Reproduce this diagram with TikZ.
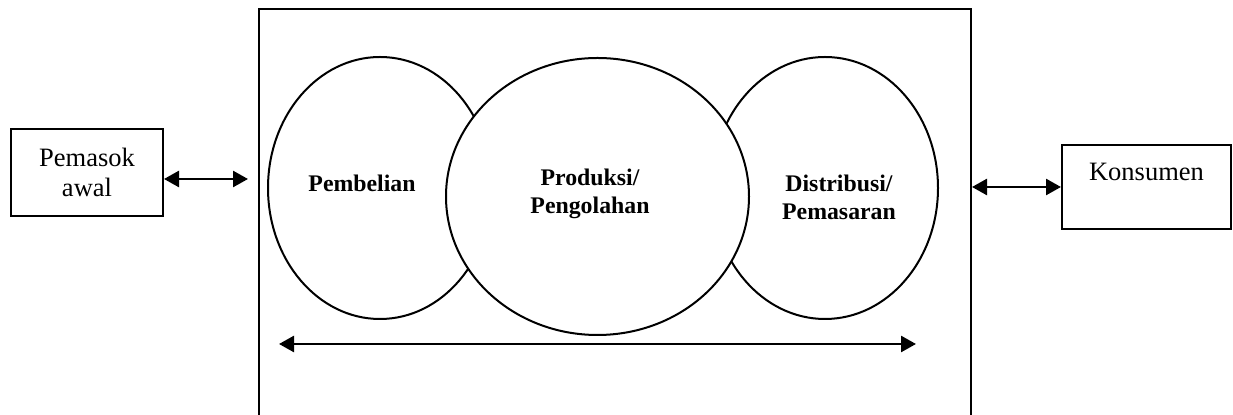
\documentclass[tikz,border=0pt]{standalone}
\usepackage{fontspec}
\setmainfont{Liberation Serif}
\usetikzlibrary{positioning,arrows.meta,shapes.geometric}

\begin{document}
\begin{tikzpicture}[x=0.5pt,y=-0.5pt,font=\fontsize{13.25}{15}\selectfont,
      box/.style={draw,line width=1pt,align=center,inner sep=0pt},
      lingkar/.style={ellipse,draw,line width=1pt,inner sep=0pt},
      tebal/.style={font=\fontsize{11.9}{14}\selectfont\bfseries,align=center},
      arr/.style={{Triangle[length=7.5pt,width=8pt]}-{Triangle[length=7.5pt,width=8pt]},line width=1.3pt}]
    \useasboundingbox (0,0) rectangle (1233,415);
    \draw[line width=1pt] (259,415) -- (259,9) -- (971,9) -- (971,415);
    \node[box,minimum width=76pt,minimum height=43.5pt] (pemasok) at (87,172.5) {Pemasok\\awal};
    \node[box,minimum width=84.5pt,minimum height=42pt] (konsumen) at (1146.5,187) {Konsumen\\~};
    \node[lingkar,minimum width=112pt,minimum height=131pt] (beli) at (380,188) {};
    \node[lingkar,minimum width=113pt,minimum height=131pt] (pasar) at (825,188) {};
    \node[lingkar,fill=white,minimum width=151.5pt,minimum height=138.5pt] (olah) at (597.5,196.5) {};
    \node[tebal] (tbeli) at ([xshift=-9pt,yshift=2.5pt]beli.center) {Pembelian};
    \node[tebal] (tolah) at ([xshift=-3.75pt,yshift=1.25pt]olah.center) {Produksi/\\Pengolahan};
    \node[tebal] (tpasar) at ([xshift=7pt,yshift=-4.5pt]pasar.center) {Distribusi/\\Pemasaran};
    \coordinate (kiri) at (248,179);
    \coordinate (kanan) at (972,187);
    \coordinate (bawahkiri) at (279,344);
    \coordinate (bawahkanan) at (916,344);
    \draw[arr] (pemasok.east |- kiri) -- (kiri);
    \draw[arr] (kanan) -- (konsumen.west);
    \draw[arr] (bawahkiri) -- (bawahkanan);
  \end{tikzpicture}
\end{document}
